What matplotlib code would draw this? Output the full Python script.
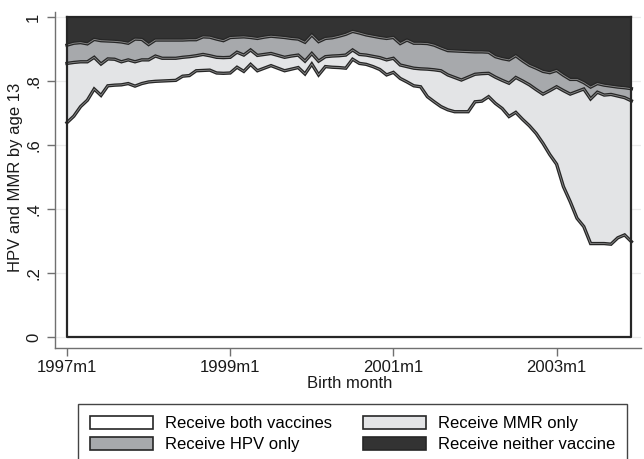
import numpy as np
import matplotlib
matplotlib.use("Agg")
import matplotlib.pyplot as plt
from matplotlib.patches import Patch

plt.rcParams["font.family"] = ["Liberation Sans", "DejaVu Sans"]

# birth months 1997m1 .. 2003m12 (index 0 = 1997m1)
tick_months = [0, 24, 48, 72]
tick_labels = ["1997m1", "1999m1", "2001m1", "2003m1"]
labels = ["Receive both vaccines", "Receive MMR only",
          "Receive HPV only", "Receive neither vaccine"]

# cumulative shares
cum_both = [0.67, 0.69, 0.72, 0.74, 0.775, 0.755, 0.785, 0.787, 0.788, 0.792,
            0.784, 0.792, 0.797, 0.799, 0.80, 0.801, 0.802, 0.815, 0.817, 0.832,
            0.833, 0.834, 0.825, 0.824, 0.825, 0.843, 0.83, 0.852, 0.832, 0.84,
            0.848, 0.84, 0.832, 0.837, 0.842, 0.822, 0.853, 0.819, 0.845, 0.843,
            0.842, 0.84, 0.868, 0.855, 0.852, 0.845, 0.836, 0.819, 0.827, 0.808,
            0.797, 0.785, 0.782, 0.751, 0.735, 0.72, 0.71, 0.704, 0.704, 0.704,
            0.735, 0.737, 0.751, 0.73, 0.714, 0.689, 0.702, 0.68, 0.66, 0.636,
            0.605, 0.57, 0.54, 0.47, 0.423, 0.371, 0.345, 0.292, 0.292, 0.292,
            0.29, 0.31, 0.319, 0.298]
cum_mmr = [0.855, 0.858, 0.86, 0.86, 0.874, 0.853, 0.869, 0.868, 0.86, 0.866,
           0.86, 0.866, 0.866, 0.878, 0.871, 0.871, 0.871, 0.874, 0.876, 0.879,
           0.883, 0.879, 0.874, 0.873, 0.874, 0.89, 0.881, 0.897, 0.88, 0.883,
           0.886, 0.88, 0.874, 0.878, 0.881, 0.862, 0.886, 0.862, 0.876, 0.878,
           0.879, 0.881, 0.897, 0.883, 0.881, 0.877, 0.873, 0.866, 0.871, 0.85,
           0.845, 0.84, 0.838, 0.837, 0.835, 0.832, 0.819, 0.811, 0.803, 0.812,
           0.821, 0.823, 0.824, 0.812, 0.802, 0.793, 0.811, 0.80, 0.788, 0.773,
           0.759, 0.77, 0.782, 0.77, 0.759, 0.767, 0.775, 0.744, 0.765, 0.756,
           0.758, 0.753, 0.748, 0.738]
cum_hpv = [0.912, 0.918, 0.92, 0.916, 0.93, 0.926, 0.925, 0.924, 0.922, 0.918,
           0.931, 0.93, 0.914, 0.928, 0.928, 0.928, 0.928, 0.928, 0.929, 0.929,
           0.938, 0.937, 0.931, 0.926, 0.936, 0.937, 0.938, 0.936, 0.933, 0.937,
           0.94, 0.938, 0.936, 0.933, 0.931, 0.921, 0.944, 0.923, 0.933, 0.935,
           0.94, 0.946, 0.955, 0.95, 0.944, 0.94, 0.936, 0.933, 0.936, 0.917,
           0.928, 0.918, 0.918, 0.917, 0.912, 0.903, 0.895, 0.894, 0.893, 0.892,
           0.891, 0.891, 0.89, 0.876, 0.87, 0.866, 0.879, 0.863, 0.849, 0.84,
           0.83, 0.826, 0.833, 0.818, 0.805, 0.805, 0.795, 0.781, 0.792, 0.787,
           0.784, 0.781, 0.779, 0.776]

months = np.arange(len(cum_both))
both = np.array(cum_both)
mmr_only = np.array(cum_mmr) - both
hpv_only = np.array(cum_hpv) - np.array(cum_mmr)
neither = 1 - np.array(cum_hpv)

colors = ["#ffffff", "#e3e4e6", "#a7a9ac", "#333333"]
edge = "#262626"

fig = plt.figure(figsize=(6.44, 4.59), dpi=100)
ax = fig.add_axes([55/644, 1-348/459, (641-55)/644, (348-12)/459])

ax.stackplot(months, both, mmr_only, hpv_only, neither, colors=colors, zorder=2)
for line in (cum_both, cum_mmr, cum_hpv):
    ax.plot(months, line, color=edge, lw=2.4, zorder=3, solid_joinstyle="miter")
    ax.plot(months, line, color="#8c8c8c", lw=0.6, zorder=4)
# outline of the stacked block
last = months[-1]
ax.plot([0, 0, last, last], [1, 0, 0, 1], color=edge, lw=1.6, zorder=5)
ax.plot([0, last], [1, 1], color=edge, lw=1.6, zorder=5)

ax.set_xlim(-12/6.8, (641-67)/6.8)
ax.set_ylim(-11/320, (337-12)/320)
ax.set_xticks(tick_months, tick_labels)
yt = [0, 0.2, 0.4, 0.6, 0.8, 1]
ax.set_yticks(yt, ["0", ".2", ".4", ".6", ".8", "1"])
for t in ax.get_yticklabels():
    t.set_rotation(90)
    t.set_va("center")
ax.grid(axis="y", color="#ebebeb", lw=0.9, zorder=0)
ax.set_axisbelow(True)
for s in ("top", "right"):
    ax.spines[s].set_visible(False)
for s in ("left", "bottom"):
    ax.spines[s].set_color("#707070")
    ax.spines[s].set_linewidth(1.0)
ax.tick_params(colors="#707070", labelcolor="#1a1a1a", length=6, width=1,
               labelsize=12)
ax.tick_params(axis="y", pad=4)
ax.tick_params(axis="x", pad=3)

fig.text(16/644, 1-177/459, "HPV and MMR by age 13", rotation=90,
         ha="center", va="center", fontsize=12, color="#1a1a1a")
fig.text(350/644, 1-384/459, "Birth month", ha="center", va="center",
         fontsize=12, color="#1a1a1a")

handles = [Patch(facecolor=c, edgecolor=edge, lw=1.2) for c in colors]
order = [0, 2, 1, 3]
leg = fig.legend([handles[i] for i in order], [labels[i] for i in order],
                 ncol=2, loc="upper left", mode="expand", borderaxespad=0,
                 bbox_to_anchor=(78/644, 0, (627-78)/644, 1-404/459),
                 fontsize=12, handlelength=3.8, handleheight=0.85,
                 handletextpad=0.7, labelspacing=0.36, borderpad=0.7,
                 fancybox=False, framealpha=1, edgecolor="#444444")
leg.get_frame().set_linewidth(1.0)

fig.savefig("out.png", dpi=100)
